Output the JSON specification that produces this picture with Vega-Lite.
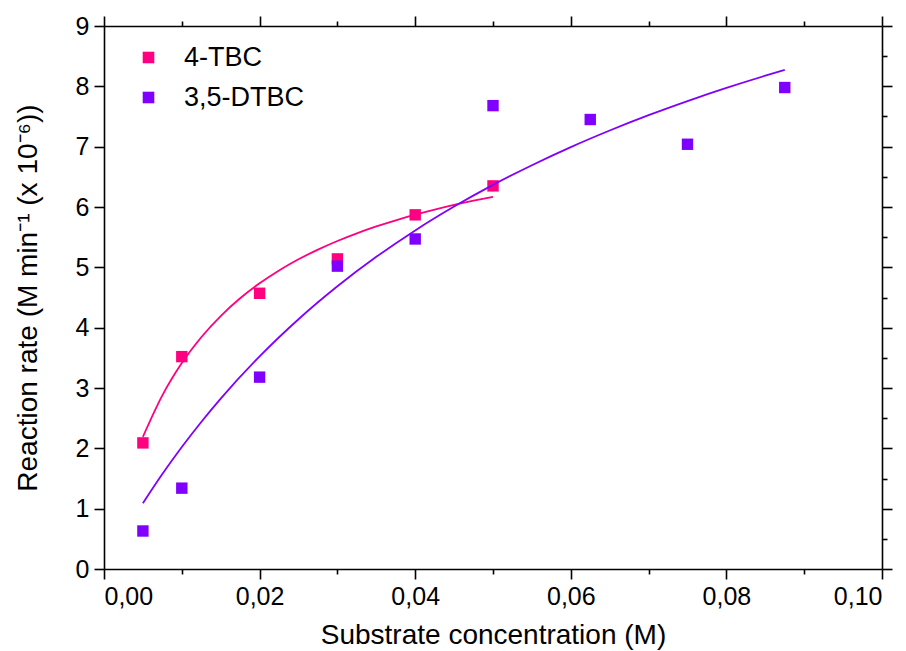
{
  "$schema": "https://vega.github.io/schema/vega-lite/v6.json",
  "width": 778,
  "height": 543,
  "autosize": {"type": "none"},
  "padding": {"left": 104, "top": 26, "right": 24, "bottom": 82},
  "background": "white",
  "config": {
    "locale": {"number": {"decimal": ",", "thousands": ".", "grouping": [3], "currency": ["", "€"]}},
    "font": "Liberation Sans",
    "view": {"stroke": null},
    "axis": {"domainColor": "black", "domainWidth": 1.6, "tickColor": "black", "tickWidth": 1.6, "grid": false, "labelColor": "black", "titleColor": "black", "labelFont": "Liberation Sans", "titleFont": "Liberation Sans", "labelFontSize": 25, "titleFontSize": 28, "titleFontWeight": "normal"},
    "legend": {"orient": "none", "legendX": 31, "legendY": 18, "title": null, "symbolType": "square", "symbolSize": 135, "labelFontSize": 27, "labelFont": "Liberation Sans", "labelColor": "black", "rowPadding": 12, "labelOffset": 22, "symbolStrokeWidth": 0}
  },
  "datasets": {
    "pts": [
      {"x": 0.005, "y": 2.09, "s": "4-TBC"},
      {"x": 0.01, "y": 3.52, "s": "4-TBC"},
      {"x": 0.02, "y": 4.57, "s": "4-TBC"},
      {"x": 0.03, "y": 5.14, "s": "4-TBC"},
      {"x": 0.04, "y": 5.87, "s": "4-TBC"},
      {"x": 0.05, "y": 6.35, "s": "4-TBC"},
      {"x": 0.005, "y": 0.63, "s": "3,5-DTBC"},
      {"x": 0.01, "y": 1.34, "s": "3,5-DTBC"},
      {"x": 0.02, "y": 3.18, "s": "3,5-DTBC"},
      {"x": 0.03, "y": 5.02, "s": "3,5-DTBC"},
      {"x": 0.04, "y": 5.47, "s": "3,5-DTBC"},
      {"x": 0.05, "y": 7.68, "s": "3,5-DTBC"},
      {"x": 0.0625, "y": 7.45, "s": "3,5-DTBC"},
      {"x": 0.075, "y": 7.04, "s": "3,5-DTBC"},
      {"x": 0.0875, "y": 7.98, "s": "3,5-DTBC"}
    ],
    "fit": [
      {"x": 0.005, "y": 2.190, "s": "4-TBC"},
      {"x": 0.0075, "y": 2.877, "s": "4-TBC"},
      {"x": 0.01, "y": 3.413, "s": "4-TBC"},
      {"x": 0.0125, "y": 3.842, "s": "4-TBC"},
      {"x": 0.015, "y": 4.193, "s": "4-TBC"},
      {"x": 0.0175, "y": 4.487, "s": "4-TBC"},
      {"x": 0.02, "y": 4.735, "s": "4-TBC"},
      {"x": 0.0225, "y": 4.948, "s": "4-TBC"},
      {"x": 0.025, "y": 5.133, "s": "4-TBC"},
      {"x": 0.0275, "y": 5.294, "s": "4-TBC"},
      {"x": 0.03, "y": 5.437, "s": "4-TBC"},
      {"x": 0.0325, "y": 5.564, "s": "4-TBC"},
      {"x": 0.035, "y": 5.678, "s": "4-TBC"},
      {"x": 0.0375, "y": 5.780, "s": "4-TBC"},
      {"x": 0.04, "y": 5.873, "s": "4-TBC"},
      {"x": 0.0425, "y": 5.957, "s": "4-TBC"},
      {"x": 0.045, "y": 6.034, "s": "4-TBC"},
      {"x": 0.0475, "y": 6.104, "s": "4-TBC"},
      {"x": 0.05, "y": 6.169, "s": "4-TBC"},
      {"x": 0.005, "y": 1.090, "s": "3,5-DTBC"},
      {"x": 0.0075, "y": 1.573, "s": "3,5-DTBC"},
      {"x": 0.01, "y": 2.021, "s": "3,5-DTBC"},
      {"x": 0.0125, "y": 2.436, "s": "3,5-DTBC"},
      {"x": 0.015, "y": 2.824, "s": "3,5-DTBC"},
      {"x": 0.02, "y": 3.524, "s": "3,5-DTBC"},
      {"x": 0.025, "y": 4.140, "s": "3,5-DTBC"},
      {"x": 0.03, "y": 4.686, "s": "3,5-DTBC"},
      {"x": 0.035, "y": 5.174, "s": "3,5-DTBC"},
      {"x": 0.04, "y": 5.612, "s": "3,5-DTBC"},
      {"x": 0.045, "y": 6.007, "s": "3,5-DTBC"},
      {"x": 0.05, "y": 6.366, "s": "3,5-DTBC"},
      {"x": 0.055, "y": 6.693, "s": "3,5-DTBC"},
      {"x": 0.06, "y": 6.993, "s": "3,5-DTBC"},
      {"x": 0.065, "y": 7.268, "s": "3,5-DTBC"},
      {"x": 0.07, "y": 7.522, "s": "3,5-DTBC"},
      {"x": 0.075, "y": 7.756, "s": "3,5-DTBC"},
      {"x": 0.08, "y": 7.974, "s": "3,5-DTBC"},
      {"x": 0.085, "y": 8.176, "s": "3,5-DTBC"},
      {"x": 0.0875, "y": 8.272, "s": "3,5-DTBC"}
    ]
  },
  "resolve": {"axis": {"x": "independent", "y": "independent"}},
  "layer": [
    {
      "data": {"name": "pts"},
      "mark": {"type": "point", "shape": "square", "filled": true, "opacity": 1, "size": 130},
      "encoding": {
        "x": {"field": "x", "type": "quantitative", "scale": {"domain": [0, 0.1], "nice": false},
          "axis": {"orient": "bottom", "title": "Substrate concentration (M)", "format": ".2f", "values": [0,0.01,0.02,0.03,0.04,0.05,0.06,0.07,0.08,0.09,0.1],
            "labelExpr": "round(datum.value*100) % 2 == 0 ? datum.label : ''", "labelPadding": 5, "titlePadding": 12,
            "tickSize": {"condition": {"test": "round(datum.value*100) % 2 == 1", "value": 5}, "value": 10}}},
        "y": {"field": "y", "type": "quantitative", "scale": {"domain": [0, 9], "nice": false},
          "axis": {"orient": "left", "title": "Reaction rate (M min⁻¹ (x 10⁻⁶))", "values": [0,0.5,1,1.5,2,2.5,3,3.5,4,4.5,5,5.5,6,6.5,7,7.5,8,8.5,9],
            "labelExpr": "datum.value % 1 == 0 ? datum.label : ''", "format": "d", "labelPadding": 5, "titlePadding": 33,
            "tickSize": {"condition": {"test": "datum.value % 1 != 0", "value": 5}, "value": 10}}},
        "color": {"field": "s", "type": "nominal", "scale": {"domain": ["4-TBC", "3,5-DTBC"], "range": ["#FF0080", "#8000FF"]}}
      }
    },
    {
      "data": {"name": "fit"},
      "mark": {"type": "line", "strokeWidth": 1.8, "interpolate": "monotone"},
      "encoding": {
        "x": {"field": "x", "type": "quantitative", "scale": {"domain": [0, 0.1], "nice": false},
          "axis": {"orient": "top", "labels": false, "title": null, "values": [0,0.01,0.02,0.03,0.04,0.05,0.06,0.07,0.08,0.09,0.1],
            "tickSize": {"condition": {"test": "round(datum.value*100) % 2 == 1", "value": 5}, "value": 10}}},
        "y": {"field": "y", "type": "quantitative", "scale": {"domain": [0, 9], "nice": false},
          "axis": {"orient": "right", "labels": false, "title": null, "values": [0,0.5,1,1.5,2,2.5,3,3.5,4,4.5,5,5.5,6,6.5,7,7.5,8,8.5,9],
            "tickSize": {"condition": {"test": "datum.value % 1 != 0", "value": 5}, "value": 10}}},
        "color": {"field": "s", "type": "nominal", "scale": {"domain": ["4-TBC", "3,5-DTBC"], "range": ["#FF0080", "#8000FF"]}}
      }
    }
  ]
}
